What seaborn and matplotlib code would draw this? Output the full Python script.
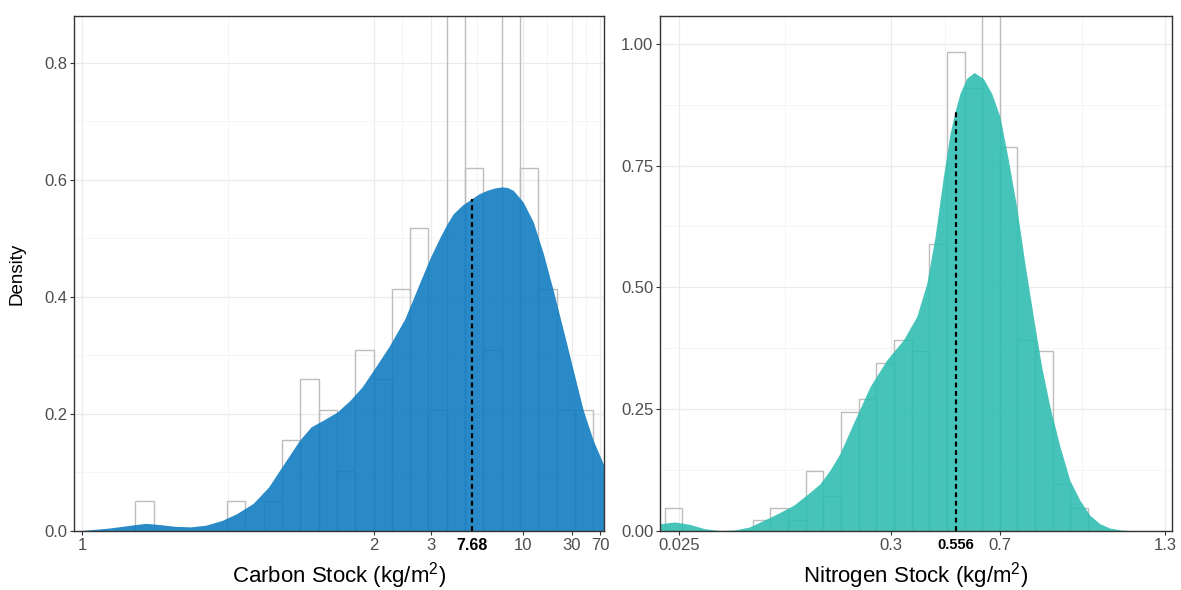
import numpy as np
import pandas as pd
import matplotlib
matplotlib.use("Agg")
import matplotlib.pyplot as plt
from matplotlib.ticker import FixedLocator
import seaborn as sns

# ---------------- data (x in transformed-scale units, one unit = one histogram bin) -------------
# Carbon panel
carbon_bar_heights = [0.052, 0, 0, 0, 0, 0.052, 0, 0.052, 0.155, 0.259, 0.207, 0.103, 0.310,
                      0.259, 0.414, 0.518, 0.207, 0.98, 0.621, 0.310, 1.04, 0.621, 0.414,
                      0.207, 0.207]
carbon_dens_x = [-3.35, -2.89, -1.44, 0.0, 0.58, 1.32, 2.16, 3.02, 3.85, 4.73, 5.55, 6.42,
                 7.27, 8.11, 8.96, 9.59, 10.24, 11.0, 11.71, 12.37, 13.0, 13.84, 14.70,
                 15.10, 15.53, 16.08, 16.63, 17.0, 17.35, 17.85, 18.32, 18.75, 19.18, 19.6,
                 19.99, 20.3, 20.63, 21.17, 21.72, 22.27, 22.81, 23.36, 23.90, 24.45, 24.99,
                 25.58]
carbon_dens_y = [0.0, 0.001, 0.005, 0.011, 0.013, 0.011, 0.008, 0.007, 0.010, 0.018, 0.030,
                 0.047, 0.075, 0.115, 0.155, 0.178, 0.189, 0.203, 0.223, 0.246, 0.275, 0.315,
                 0.362, 0.392, 0.425, 0.466, 0.502, 0.524, 0.542, 0.557, 0.567, 0.576, 0.582,
                 0.586, 0.588, 0.587, 0.582, 0.562, 0.528, 0.474, 0.411, 0.343, 0.275, 0.206,
                 0.155, 0.112]
carbon_tick_pos = [-2.89, 13.0, 16.12, 21.16, 23.83, 25.36]
carbon_tick_labels = ["1", "2", "3", "10", "30", "70"]
carbon_median_pos = 18.35
carbon_median_height = 0.567
carbon_median_label = "7.68"
carbon_xlim = (-3.35, 25.58)
carbon_ylim = (0, 0.88)
carbon_yticks = [0.0, 0.2, 0.4, 0.6, 0.8]
carbon_ylabels = ["0.0", "0.2", "0.4", "0.6", "0.8"]

# Nitrogen panel
nitrogen_bar_heights = [0.048, 0, 0, 0, 0, 0.0234, 0.048, 0.0234, 0.1226, 0.0727, 0.2445,
                        0.2705, 0.3445, 0.393, 0.3685, 0.590, 0.984, 0.91, 1.18, 0.7876,
                        0.393, 0.3685, 0.097, 0.048]
nitrogen_dens_x = [-0.24, 0.57, 1.41, 2.25, 3.10, 3.94, 4.79, 5.63, 6.48, 7.32, 8.16, 8.81,
                   9.38, 9.94, 10.70, 11.64, 12.59, 13.53, 14.29, 14.86, 15.33, 15.80, 16.18,
                   16.46, 16.74, 17.12, 17.55, 18.06, 18.54, 19.01, 19.48, 19.95, 20.42,
                   20.90, 21.37, 21.84, 22.41, 22.97, 23.54, 24.11, 24.67, 25.24, 25.89,
                   26.94, 28.74]
nitrogen_dens_y = [0.015, 0.0185, 0.0138, 0.005, 0.001, 0.002, 0.008, 0.022, 0.037, 0.053,
                   0.077, 0.097, 0.125, 0.159, 0.221, 0.296, 0.351, 0.392, 0.44, 0.508, 0.604,
                   0.727, 0.816, 0.861, 0.898, 0.929, 0.941, 0.929, 0.898, 0.850, 0.762,
                   0.666, 0.549, 0.44, 0.337, 0.255, 0.173, 0.104, 0.063, 0.032, 0.015,
                   0.006, 0.002, 0.0, 0.0]
nitrogen_tick_pos = [0.84, 12.84, 18.99, 28.36]
nitrogen_tick_labels = ["0.025", "0.3", "0.7", "1.3"]
nitrogen_median_pos = 16.49
nitrogen_median_height = 0.861
nitrogen_median_label = "0.556"
nitrogen_xlim = (-0.24, 28.74)
nitrogen_ylim = (0, 1.057)
nitrogen_yticks = [0.0, 0.25, 0.5, 0.75, 1.0]
nitrogen_ylabels = ["0.00", "0.25", "0.50", "0.75", "1.00"]

# ---------------- style -------------
sns.set_theme(style="white")
plt.rcParams["font.family"] = ["Liberation Sans", "DejaVu Sans"]
plt.rcParams["mathtext.default"] = "regular"

fig = plt.figure(figsize=(11.81, 5.90), dpi=100)
ax1 = fig.add_axes([74 / 1181, 59 / 590, 530 / 1181, 515 / 590])
ax2 = fig.add_axes([660.3 / 1181, 59 / 590, 511.4 / 1181, 515 / 590])


def draw_panel(ax, heights, dx, dy, fill_color, tick_pos, tick_labels, med_pos, med_h,
               med_label, xlim, ylim, yticks, ylabels, med_size, xlabel):
    n = len(heights)
    centers = np.arange(n) + 0.5
    df = pd.DataFrame({"x": centers, "w": heights})
    sns.histplot(data=df, x="x", weights="w", bins=n, binrange=(0, n), stat="count",
                 fill=False, element="bars", color="#BDBDBD", linewidth=1.0, ax=ax,
                 zorder=2)
    ax.fill_between(dx, 0, dy, color=fill_color, alpha=0.87, linewidth=0, zorder=3)
    ax.plot([med_pos, med_pos], [0, med_h], color="black", linestyle=(0, (2.2, 1.6)),
            linewidth=1.6, zorder=4)
    ax.set_xlim(*xlim)
    ax.set_ylim(*ylim)
    ax.set_xticks(tick_pos)
    ax.set_xticklabels(tick_labels)
    ax.set_yticks(yticks)
    ax.set_yticklabels(ylabels)
    mids_x = [(a + b) / 2 for a, b in zip(tick_pos[:-1], tick_pos[1:])]
    mids_y = [(a + b) / 2 for a, b in zip(yticks[:-1], yticks[1:])]
    ax.xaxis.set_minor_locator(FixedLocator(mids_x))
    ax.yaxis.set_minor_locator(FixedLocator(mids_y))
    ax.grid(True, which="major", color="#EBEBEB", linewidth=0.9, zorder=0)
    ax.grid(True, which="minor", color="#F4F4F4", linewidth=0.6, zorder=0)
    ax.set_axisbelow(True)
    ax.tick_params(axis="both", which="major", length=3, width=0.8, color="#333333",
                   labelsize=12, labelcolor="#4D4D4D", pad=2, bottom=True, left=True)
    ax.tick_params(axis="both", which="minor", length=0)
    for sp in ax.spines.values():
        sp.set_visible(True)
        sp.set_color("#333333")
        sp.set_linewidth(1.0)
        sp.set_zorder(6)
    ax.annotate(med_label, xy=(med_pos, 0), xycoords=("data", "axes fraction"),
                xytext=(0, -5.2), textcoords="offset points", ha="center", va="top",
                fontsize=med_size, fontweight="bold", color="black")
    ax.set_xlabel(xlabel, fontsize=16, color="black", labelpad=5)
    ax.set_ylabel("")


draw_panel(ax1, carbon_bar_heights, carbon_dens_x, carbon_dens_y, "#0A79BF",
           carbon_tick_pos, carbon_tick_labels, carbon_median_pos, carbon_median_height,
           carbon_median_label, carbon_xlim, carbon_ylim, carbon_yticks, carbon_ylabels,
           11.5, "Carbon Stock (kg/m$^{2}$)")
draw_panel(ax2, nitrogen_bar_heights, nitrogen_dens_x, nitrogen_dens_y, "#2ABCB0",
           nitrogen_tick_pos, nitrogen_tick_labels, nitrogen_median_pos,
           nitrogen_median_height, nitrogen_median_label, nitrogen_xlim, nitrogen_ylim,
           nitrogen_yticks, nitrogen_ylabels, 10.5, "Nitrogen Stock (kg/m$^{2}$)")

ax1.set_ylabel("Density", fontsize=13.5, color="black", labelpad=13)

fig.savefig("out.png", dpi=100, facecolor="white")
